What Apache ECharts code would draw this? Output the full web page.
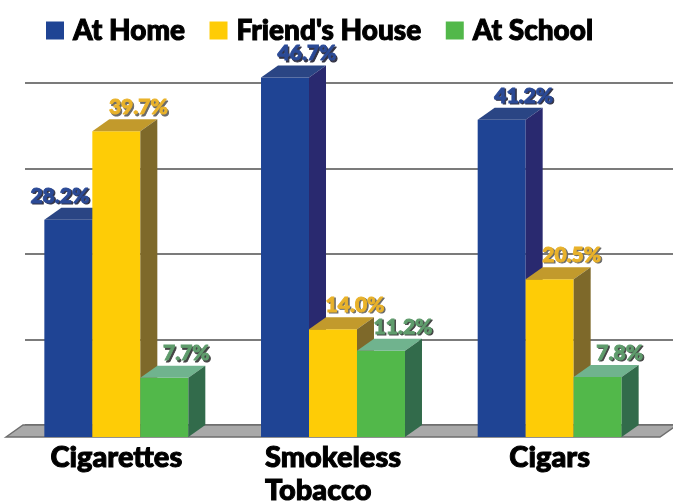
<!DOCTYPE html>
<html>
<head>
<meta charset="utf-8">
<script src="https://cdn.jsdelivr.net/npm/echarts@6/dist/echarts.min.js"></script>
<style>
  html, body { margin: 0; padding: 0; background: #ffffff; }
  #chart { width: 673px; height: 504px; }
</style>
</head>
<body>
<div id="chart"></div>
<script>
// Where young people get tobacco, by product
const categories = ['Cigarettes', 'Smokeless\nTobacco', 'Cigars'];
const seriesNames = ['At Home', "Friend's House", 'At School'];
const atHome = [28.2, 46.7, 41.2];
const friendsHouse = [39.7, 14.0, 20.5];
const atSchool = [7.7, 11.2, 7.8];
const seriesValues = [atHome, friendsHouse, atSchool];

// Face colours for each series: front, top, right side, label and label shadow
const palettes = [
  { front: '#1F4494', top: '#2A4584', side: '#29296F', label: '#2B4A96', shadow: '#333344' },
  { front: '#FECC06', top: '#C29A2C', side: '#7E692A', label: '#E9B22A', shadow: '#6A6A6A' },
  { front: '#52B84A', top: '#70B38E', side: '#326B4B', label: '#5F9C6C', shadow: '#444444' }
];

const DX = 17;   // depth offset to the right
const DY = 12;   // depth offset upward
const FONT = 'Lato, "DejaVu Sans", sans-serif';

// A 3-D looking bar: front rectangle, top and right-side parallelograms, value label
function barRenderer(s) {
  const pal = palettes[s];
  return function (params, api) {
    const cat = api.value(0);
    const v = api.value(1);
    const band = api.size([1, 0])[0];
    const w = band * 0.2215;
    const top = api.coord([cat, v]);
    const base = api.coord([cat, 0]);
    const x0 = top[0] + (s - 1.5) * w;
    const yt = top[1];
    const yb = base[1];

    // a taller neighbour on the right pushes the label to the left
    const next = seriesValues[s + 1];
    const blocked = next && next[cat] > v;
    const lx = blocked ? x0 + w - 3 : x0 + w / 2 + 22;
    const ly = yt - DY - 12;
    const align = blocked ? 'right' : 'center';
    const text = v.toFixed(1) + '%';
    const labelFont = '900 21px ' + FONT;

    return {
      type: 'group',
      children: [
        { type: 'rect', shape: { x: x0, y: yt, width: w, height: yb - yt }, style: { fill: pal.front } },
        { type: 'polygon', shape: { points: [[x0, yt], [x0 + DX, yt - DY], [x0 + w + DX, yt - DY], [x0 + w, yt]] }, style: { fill: pal.top } },
        { type: 'polygon', shape: { points: [[x0 + w, yt], [x0 + w + DX, yt - DY], [x0 + w + DX, yb - DY], [x0 + w, yb]] }, style: { fill: pal.side } },
        { type: 'text', z2: 20, style: { text: text, x: lx + 1.5, y: ly + 1.5, textAlign: align, textVerticalAlign: 'middle', font: labelFont, fill: pal.shadow, stroke: pal.shadow, lineWidth: 0.9 } },
        { type: 'text', z2: 21, style: { text: text, x: lx, y: ly, textAlign: align, textVerticalAlign: 'middle', font: labelFont, fill: pal.label, stroke: pal.label, lineWidth: 0.9 } }
      ]
    };
  };
}

// Grey floor slab under the bars, spanning the category axis
function floorRenderer(params) {
  const cs = params.coordSys;
  const yb = cs.y + cs.height;
  const xl = cs.x - 2;
  const xr = cs.x + cs.width + 2;
  return {
    type: 'polygon',
    shape: { points: [[xl, yb], [xl + DX, yb - DY], [xr + DX, yb - DY], [xr, yb]] },
    style: { fill: '#A9A9A9', stroke: '#6E6E6E', lineWidth: 1.5 }
  };
}

const chart = echarts.init(document.getElementById('chart'), null, { renderer: 'canvas' });

const barSeries = seriesNames.map(function (name, s) {
  return {
    name: name,
    type: 'custom',
    xAxisIndex: 0,
    yAxisIndex: 0,
    z: 3,
    itemStyle: { color: palettes[s].front },
    renderItem: barRenderer(s),
    encode: { x: 0, y: 1 },
    data: seriesValues[s].map(function (v, i) { return [i, v]; })
  };
});

chart.setOption({
  animation: false,
  backgroundColor: '#ffffff',
  legend: {
    data: seriesNames,
    left: 41,
    top: 11,
    icon: 'rect',
    itemWidth: 18,
    itemHeight: 18,
    itemGap: 24,
    selectedMode: false,
    textStyle: {
      fontFamily: FONT, fontWeight: 900, fontSize: 28, color: '#000000',
      textBorderColor: '#000000', textBorderWidth: 1,
      padding: [0, 0, 0, 4], lineHeight: 28
    }
  },
  grid: [
    { left: 8, right: 15, top: 52, bottom: 67, containLabel: false, outerBoundsMode: 'none' },
    { left: 25, right: 0, top: 83, bottom: 79, containLabel: false, outerBoundsMode: 'none' }
  ],
  xAxis: [
    {
      type: 'category',
      gridIndex: 0,
      data: categories,
      axisLine: { show: false },
      axisTick: { show: false },
      axisLabel: {
        interval: 0,
        margin: 4,
        fontFamily: FONT, fontWeight: 900, fontSize: 29, lineHeight: 33,
        color: '#000000', textBorderColor: '#000000', textBorderWidth: 1,
        // two-line names keep their lines flush left inside a centred block
        formatter: function (v) {
          return v.indexOf('\n') < 0 ? v : '{c|' + v.split('\n').join('}\n{c|') + '}';
        },
        rich: {
          c: {
            align: 'left', fontFamily: FONT, fontWeight: 900, fontSize: 29, lineHeight: 33,
            color: '#000000', textBorderColor: '#000000', textBorderWidth: 1
          }
        }
      }
    },
    { type: 'value', gridIndex: 1, show: false, min: 0, max: 1 }
  ],
  yAxis: [
    { type: 'value', gridIndex: 0, min: 0, max: 50, show: false },
    {
      type: 'value', gridIndex: 1, min: 0, max: 4, interval: 1,
      axisLine: { show: false }, axisTick: { show: false }, axisLabel: { show: false },
      splitLine: { show: true, lineStyle: { color: '#7B7B7B', width: 2 } }
    }
  ],
  series: [
    {
      name: 'floor',
      type: 'custom',
      xAxisIndex: 0,
      yAxisIndex: 0,
      silent: true,
      z: 2,
      renderItem: floorRenderer,
      data: [[0, 0]]
    }
  ].concat(barSeries)
});
</script>
</body>
</html>
